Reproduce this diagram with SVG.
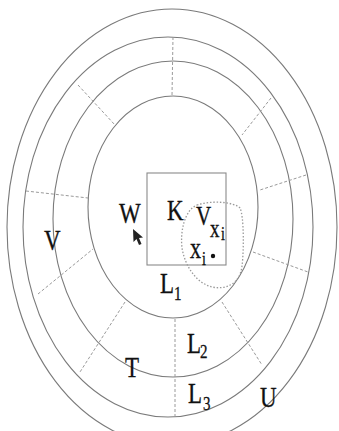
<svg xmlns="http://www.w3.org/2000/svg" width="339" height="431" viewBox="0 0 339 431">
<style>
.ring{fill:none;stroke:#7a7a7a;stroke-width:1.1}
.rad{fill:none;stroke:#9a9a9a;stroke-width:1;stroke-dasharray:3 2}
.blob{fill:none;stroke:#9a9a9a;stroke-width:1.3;stroke-dasharray:1.5 1.8}
.box{fill:none;stroke:#8a8a8a;stroke-width:1.1}
.t{font-family:"Liberation Serif","Times New Roman",serif;fill:#111;stroke:#111;stroke-width:0.25}
.big{font-size:23px}
.sub{font-size:15px}
</style>
<rect width="339" height="431" fill="#fff"/>
<g id="rings">
<ellipse id="ring4" class="ring" cx="172" cy="227" rx="165" ry="218"/>
<ellipse id="ring3" class="ring" cx="168" cy="227" rx="145" ry="190"/>
<ellipse id="ring2" class="ring" cx="173" cy="219" rx="120" ry="158"/>
<ellipse id="ring1" class="ring" cx="173" cy="207" rx="85" ry="111"/>
</g>
<g id="connectors">
<line class="rad" x1="173" y1="37" x2="172" y2="96"/>
<line class="rad" x1="78" y1="85" x2="115" y2="125"/>
<line class="rad" x1="271" y1="98" x2="242" y2="135"/>
<line class="rad" x1="26" y1="191" x2="88" y2="198"/>
<line class="rad" x1="306" y1="175" x2="260" y2="190"/>
<line class="rad" x1="38" y1="294" x2="93" y2="249"/>
<line class="rad" x1="253" y1="252" x2="308" y2="272"/>
<line class="rad" x1="125" y1="302" x2="80" y2="372"/>
<line class="rad" x1="175" y1="319" x2="175" y2="416"/>
<line class="rad" x1="222" y1="302" x2="262" y2="365"/>
</g>
<g id="K">
<rect class="box" x="147" y="173" width="79" height="92"/>
<text class="t big" transform="translate(167,220) scale(1,1.31)">K</text>
</g>
<g id="Vxi">
<path class="blob" d="M197,205 C212,200 234,202 240,208 C244,216 244,250 242,266 C240,284 226,290 212,287 C196,283 185,266 182,248 C180,230 185,210 197,205 Z"/>
<text class="t" font-size="21" transform="translate(196,225) scale(1,1.31)">V</text>
<text class="t" font-size="19" transform="translate(210,237) scale(1,1.31)">x</text>
<text class="t" font-size="14" transform="translate(221,240) scale(1,1.31)">i</text>
</g>
<g id="xi">
<circle cx="213" cy="256" r="2.2" fill="#111"/>
<text class="t" font-size="22" transform="translate(190,258) scale(1,1.31)">x</text>
<text class="t" font-size="14" transform="translate(202,265) scale(1,1.31)">i</text>
</g>
<g id="W">
<text class="t big" transform="translate(119,223) scale(1,1.31)">W</text>
<polygon points="133,229 133.5,242 136.5,239 139,245 141.5,244 139,238 143,237.5" fill="#222"/>
</g>
<g id="Vleft">
<text class="t big" transform="translate(44,250) scale(1,1.31)">V</text>
</g>
<g id="L1">
<text class="t big" transform="translate(160,293) scale(1,1.31)">L</text>
<text class="t sub" transform="translate(174,300) scale(1,1.31)">1</text>
</g>
<g id="L2">
<text class="t big" transform="translate(187,353) scale(1,1.31)">L</text>
<text class="t sub" transform="translate(200,358) scale(1,1.31)">2</text>
</g>
<g id="L3">
<text class="t big" transform="translate(188,403) scale(1,1.31)">L</text>
<text class="t sub" transform="translate(203,410) scale(1,1.31)">3</text>
</g>
<g id="T">
<text class="t big" transform="translate(125,377) scale(1,1.31)">T</text>
</g>
<g id="U">
<text class="t big" transform="translate(260,407) scale(1,1.31)">U</text>
</g>
</svg>
